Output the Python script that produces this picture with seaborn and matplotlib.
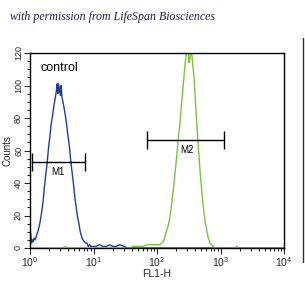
import numpy as np
import pandas as pd
import matplotlib
matplotlib.use("Agg")
import matplotlib.pyplot as plt
import seaborn as sns
from matplotlib.ticker import LogLocator, MultipleLocator, NullFormatter

# ---- data ----
control_fl1 = [1.00, 1.03, 1.06, 1.09, 1.12, 1.16, 1.20, 1.25, 1.30, 1.35, 1.41, 1.47,
               1.54, 1.61, 1.69, 1.77, 1.86, 1.95, 2.05, 2.15, 2.26, 2.37, 2.49, 2.61,
               2.68, 2.74, 2.81, 2.88, 2.95, 3.02, 3.10, 3.18, 3.30, 3.45, 3.62, 3.80,
               3.99, 4.19, 4.40, 4.62, 4.85, 5.09, 5.34, 5.61, 5.89, 6.18, 6.49, 6.81,
               7.15, 7.51, 7.88, 8.27, 8.68, 9.12, 9.57, 10.0, 11.0, 12.5, 14.0, 16.0,
               18.0, 20.0, 23.0, 26.0, 30.0, 35.0, 40.0, 10000.0]
control_counts = [12, 8, 3, 5, 4, 6, 5, 7, 9, 11, 14, 18,
                  23, 29, 38, 45, 52, 61, 68, 76, 81, 87, 92, 97,
                  101, 95, 101, 96, 99, 94, 100, 93, 90, 86, 81, 75,
                  68, 62, 53, 46, 39, 31, 25, 19, 15, 10, 7, 5,
                  4, 3, 3, 1, 2, 1, 1, 1, 1, 2, 1, 1,
                  2, 1, 1, 2, 1, 0, 0, 0]

sample_fl1 = [1, 3.3, 3.6, 3.9, 10, 20, 38, 42, 46, 50, 60, 70, 78, 88, 100, 111, 118,
              126, 134, 142, 151, 160, 170, 181, 192, 204, 216, 230, 244, 260, 272, 286,
              298, 311, 320, 331, 341, 352, 367, 383, 402, 422, 448, 475, 505, 536, 570,
              606, 644, 684, 722, 762, 850, 982, 1700, 1800, 1900, 10000]
sample_counts = [0, 0, 1, 0, 0, 0, 0, 1, 1, 1, 1, 2, 2, 2, 2, 2, 3,
                 4, 7, 11, 14, 19, 27, 36, 46, 56, 67, 77, 89, 101, 110, 118,
                 121, 120, 114, 117, 121, 120, 112, 105, 91, 77, 62, 48, 36, 25, 17,
                 11, 6, 3, 2, 1, 0, 0, 0, 1, 0, 0]

marker_names = ["M1", "M2"]
marker_start = [1.07, 69.0]
marker_end = [7.4, 1140.0]
marker_level = [53, 66.5]
marker_label_x = [2.75, 300.0]

x_tick_values = [1, 10, 100, 1000, 10000]
x_tick_labels = ["$10^0$", "$10^1$", "$10^2$", "$10^3$", "$10^4$"]
y_tick_values = [0, 20, 40, 60, 80, 100, 120]

BLUE = "#1f3f8f"
GREEN = "#7cc242"

sns.set_style("ticks")
plt.rcParams["font.family"] = ["Liberation Sans", "DejaVu Sans"]
plt.rcParams["mathtext.default"] = "regular"

fig = plt.figure(figsize=(3.05, 2.96), dpi=100)
ax = fig.add_axes([30 / 305, 1 - 248 / 296, 254 / 305, 195 / 296])

df_c = pd.DataFrame({"FL1-H": control_fl1, "Counts": control_counts})
df_s = pd.DataFrame({"FL1-H": sample_fl1, "Counts": sample_counts})
sns.lineplot(data=df_c, x="FL1-H", y="Counts", ax=ax, color=BLUE, lw=1.0,
             estimator=None, sort=False)
sns.lineplot(data=df_s, x="FL1-H", y="Counts", ax=ax, color=GREEN, lw=1.0,
             estimator=None, sort=False)

ax.set_xscale("log")
ax.set_xlim(1, 10000)
ax.set_ylim(0, 120)

# markers
for name, s, e, lvl, lx in zip(marker_names, marker_start, marker_end, marker_level, marker_label_x):
    ax.hlines(lvl, s, e, color="black", lw=1)
    ax.vlines([s, e], lvl - 5.5, lvl + 5.5, color="black", lw=1)
    ax.text(lx, lvl - 3, name, ha="center", va="top", fontsize=7, color="black")

ax.text(1.44, 107, "control", ha="left", va="bottom", fontsize=9, color="black")

ax.set_xticks(x_tick_values)
ax.set_xticklabels(x_tick_labels, fontsize=7.5)
ax.xaxis.set_minor_locator(LogLocator(base=10, subs=np.arange(2, 10)))
ax.xaxis.set_minor_formatter(NullFormatter())
ax.set_yticks(y_tick_values)
ax.set_yticklabels([str(v) for v in y_tick_values], fontsize=6.5, rotation=90, va="center")
ax.yaxis.set_minor_locator(MultipleLocator(5))
ax.tick_params(axis="both", which="major", length=4, width=0.8, direction="out", pad=1)
ax.tick_params(axis="both", which="minor", length=2.5, width=0.8, direction="out")

for sp in ax.spines.values():
    sp.set_visible(True)
    sp.set_linewidth(1)
    sp.set_color("black")

ax.set_xlabel("FL1-H", fontsize=7.5, labelpad=0)
ax.set_ylabel("Counts", fontsize=7, labelpad=1)

fig.text(10 / 305, 1 - 17 / 296, "with permission from LifeSpan Biosciences",
         fontsize=8.6, style="italic", family=["Liberation Serif", "DejaVu Serif"],
         color="#1a2050", ha="left", va="center")

fig.add_artist(plt.Line2D([302.5 / 305, 302.5 / 305], [1 - 262 / 296, 1 - 38 / 296],
                          transform=fig.transFigure, color="#333333", lw=1))

fig.savefig("out.png", dpi=100, facecolor="white")
